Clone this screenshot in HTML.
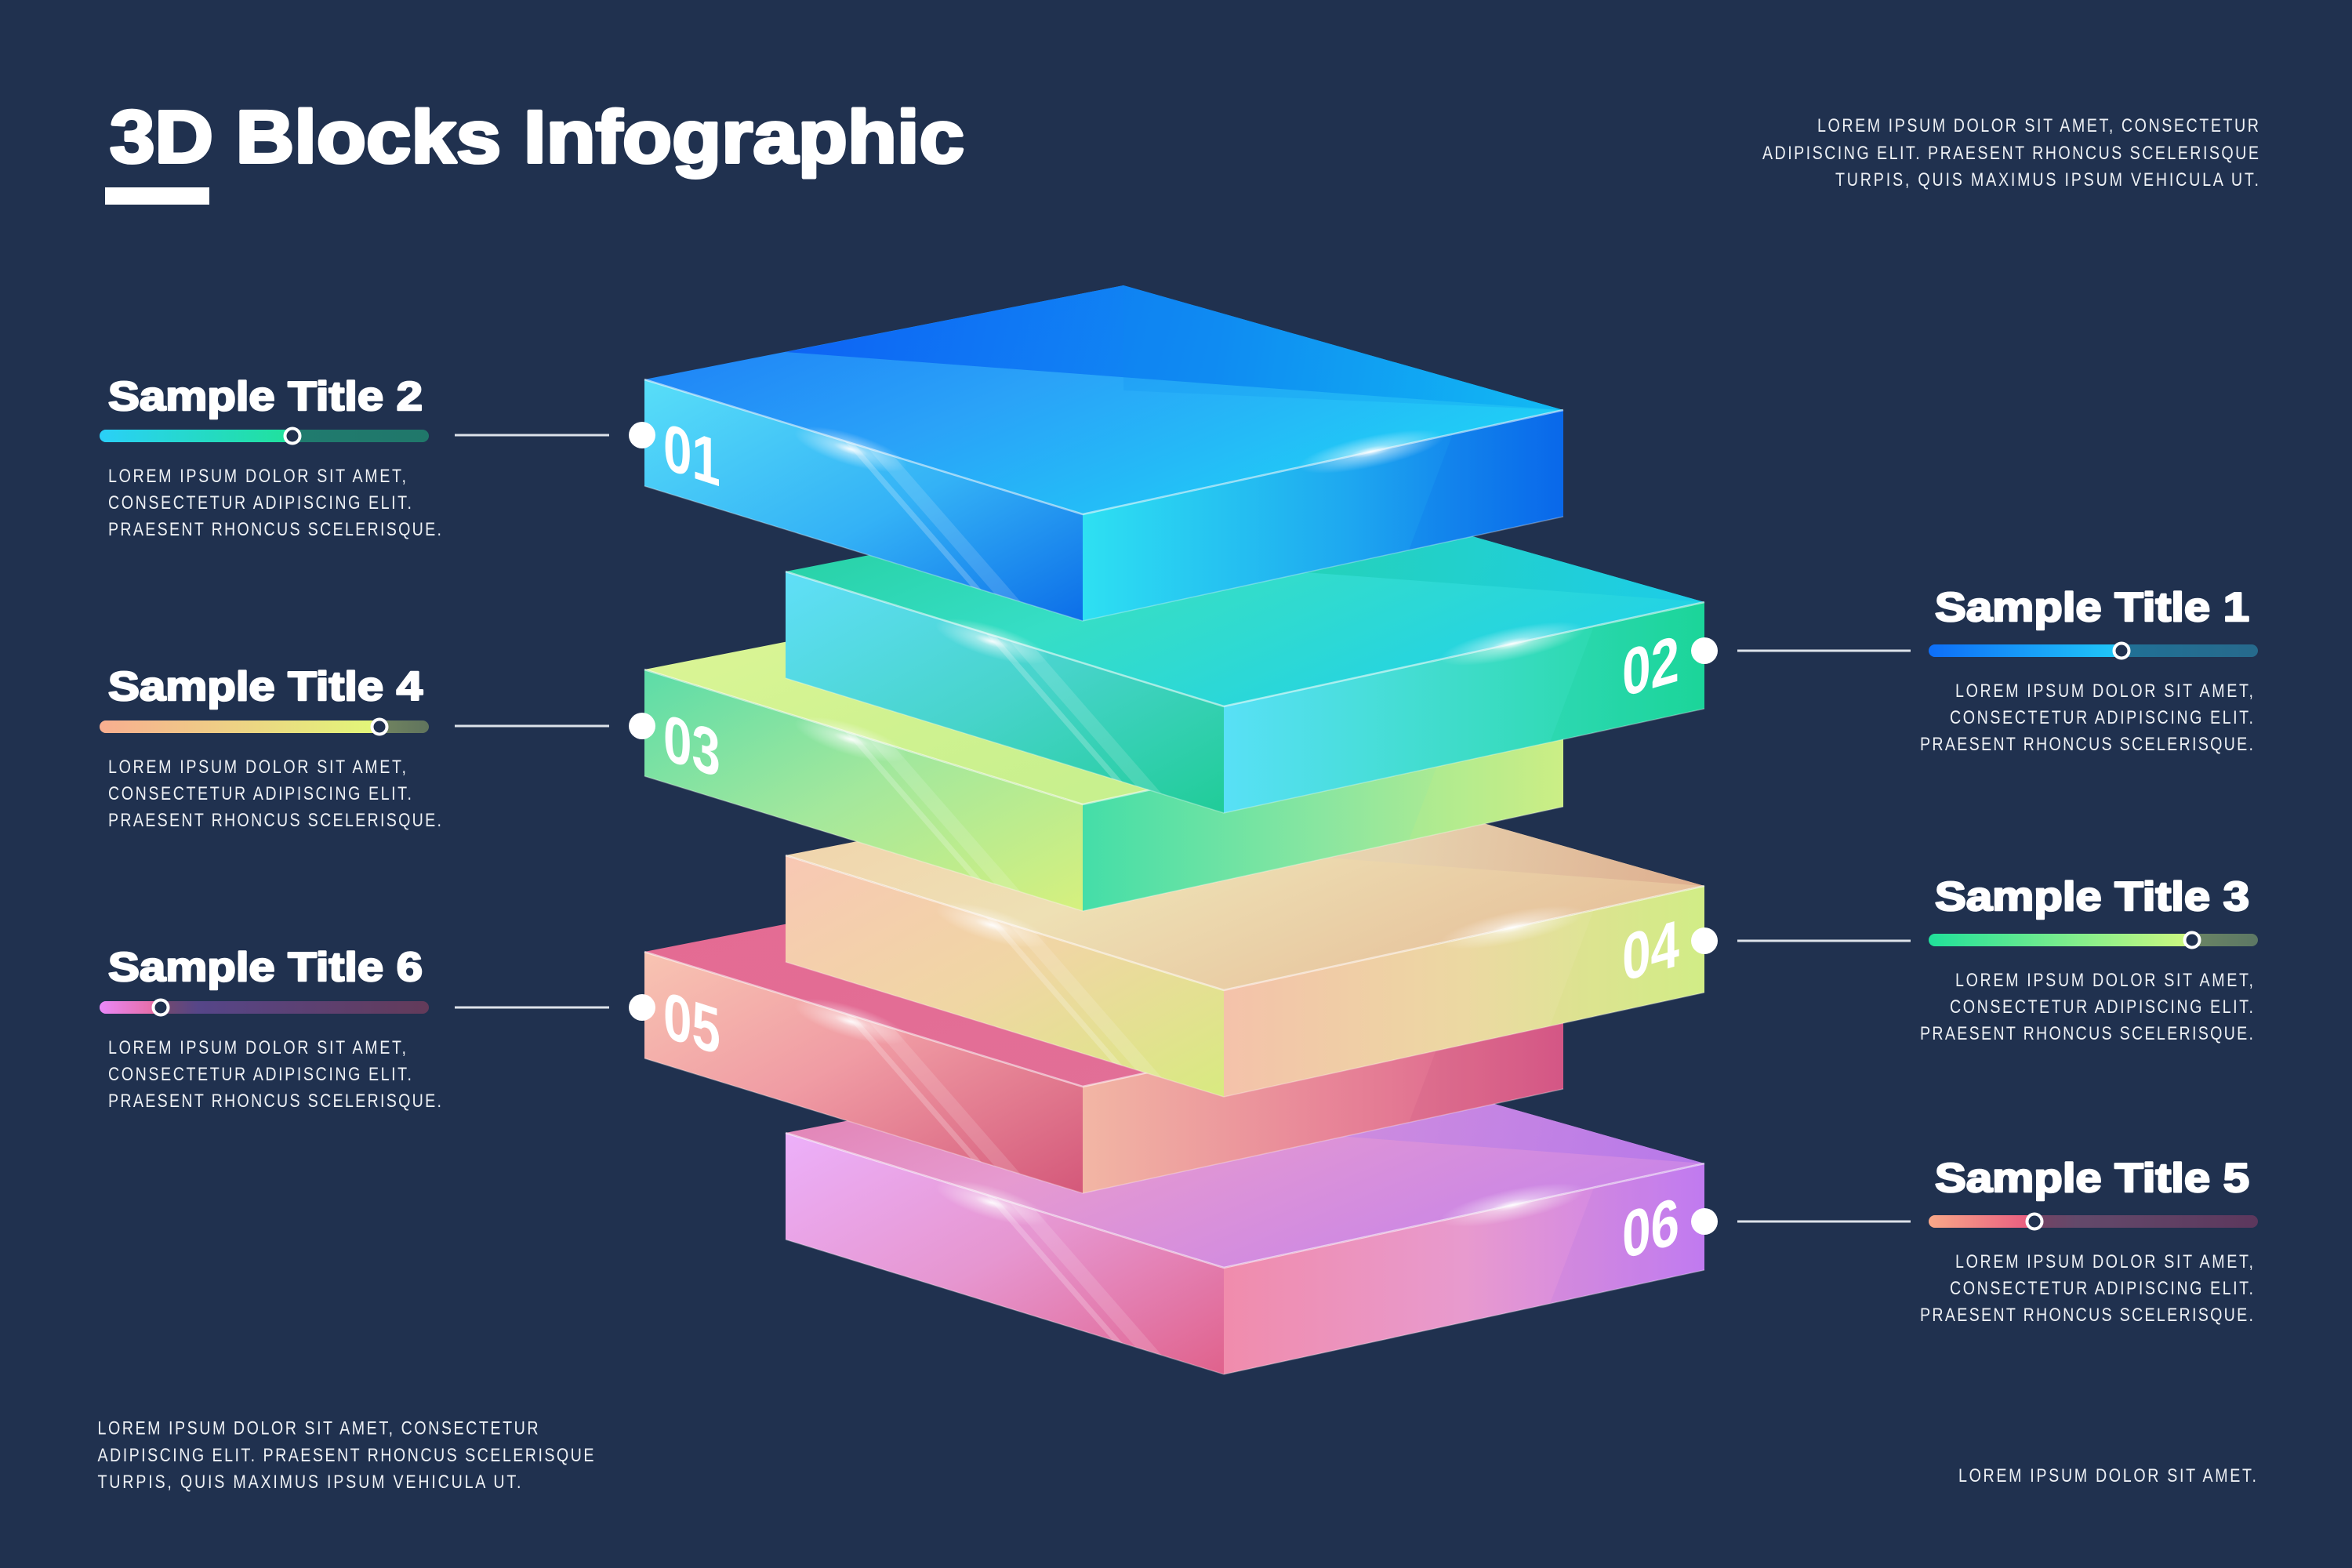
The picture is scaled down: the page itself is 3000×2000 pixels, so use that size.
<!DOCTYPE html>
<html>
<head>
<meta charset="utf-8">
<style>
html,body{margin:0;padding:0;background:#20314f;}
svg{display:block;}
text{font-family:"Liberation Sans", Arial, sans-serif;}
</style>
</head>
<body>
<svg width="3000" height="2000" viewBox="0 0 3000 2000" xmlns="http://www.w3.org/2000/svg">
<defs>
  <radialGradient id="glare">
    <stop offset="0" stop-color="#fff" stop-opacity="0.95"/>
    <stop offset="0.3" stop-color="#fff" stop-opacity="0.45"/>
    <stop offset="1" stop-color="#fff" stop-opacity="0"/>
  </radialGradient>

  <linearGradient id="g1t" x1="0" y1="0" x2="1" y2="0.6"><stop offset="0" stop-color="#1a78f6"/><stop offset="0.5" stop-color="#2aa2f8"/><stop offset="1" stop-color="#1fd0f6"/></linearGradient>
  <linearGradient id="g1f" x1="0" y1="0" x2="1" y2="0"><stop offset="0" stop-color="#0a5cf4"/><stop offset="0.55" stop-color="#0c86f2"/><stop offset="1" stop-color="#12c4f4"/></linearGradient>
  <linearGradient id="g1l" x1="0" y1="0" x2="1" y2="1"><stop offset="0" stop-color="#58def8"/><stop offset="0.55" stop-color="#34b2f6"/><stop offset="1" stop-color="#0c6ee8"/></linearGradient>
  <linearGradient id="g1r" x1="0" y1="0" x2="1" y2="0"><stop offset="0" stop-color="#2ee0f2"/><stop offset="0.55" stop-color="#1ea8f0"/><stop offset="1" stop-color="#0a6aea"/></linearGradient>

  <linearGradient id="g2t" x1="0" y1="0" x2="1" y2="0.6"><stop offset="0" stop-color="#22cc98"/><stop offset="0.5" stop-color="#36dec6"/><stop offset="1" stop-color="#22d2e6"/></linearGradient>
  <linearGradient id="g2f" x1="0" y1="0" x2="1" y2="0"><stop offset="0" stop-color="#1cc48c"/><stop offset="0.5" stop-color="#22d0b8"/><stop offset="1" stop-color="#1ccbea"/></linearGradient>
  <linearGradient id="g2l" x1="0" y1="0" x2="1" y2="1"><stop offset="0" stop-color="#60dff8"/><stop offset="0.5" stop-color="#48d4cc"/><stop offset="1" stop-color="#20cc98"/></linearGradient>
  <linearGradient id="g2r" x1="0" y1="0" x2="1" y2="0"><stop offset="0" stop-color="#58e0f6"/><stop offset="0.5" stop-color="#3edcc8"/><stop offset="1" stop-color="#1ed89c"/></linearGradient>

  <linearGradient id="g3t" x1="0" y1="0" x2="1" y2="0.6"><stop offset="0" stop-color="#e0f698"/><stop offset="0.5" stop-color="#cff290"/><stop offset="1" stop-color="#c2ee8c"/></linearGradient>
  <linearGradient id="g3f" x1="0" y1="0" x2="1" y2="0"><stop offset="0" stop-color="#d6f48e"/><stop offset="1" stop-color="#b8e888"/></linearGradient>
  <linearGradient id="g3l" x1="0" y1="0" x2="1" y2="1"><stop offset="0" stop-color="#5cdca8"/><stop offset="0.5" stop-color="#a4e89c"/><stop offset="1" stop-color="#d6f07e"/></linearGradient>
  <linearGradient id="g3r" x1="0" y1="0" x2="1" y2="0"><stop offset="0" stop-color="#44dea8"/><stop offset="0.5" stop-color="#8ae6a0"/><stop offset="1" stop-color="#cdee86"/></linearGradient>

  <linearGradient id="g4t" x1="0" y1="0" x2="1" y2="0.6"><stop offset="0" stop-color="#f2d0aa"/><stop offset="0.5" stop-color="#eee0b4"/><stop offset="1" stop-color="#e6c09a"/></linearGradient>
  <linearGradient id="g4f" x1="0" y1="0" x2="1" y2="0"><stop offset="0" stop-color="#ecd6a8"/><stop offset="0.6" stop-color="#e6d2b0"/><stop offset="1" stop-color="#dcaa8c"/></linearGradient>
  <linearGradient id="g4l" x1="0" y1="0" x2="1" y2="1"><stop offset="0" stop-color="#f8c8b4"/><stop offset="0.5" stop-color="#f0d6a4"/><stop offset="1" stop-color="#d8ea80"/></linearGradient>
  <linearGradient id="g4r" x1="0" y1="0" x2="1" y2="0"><stop offset="0" stop-color="#f4c2aa"/><stop offset="0.5" stop-color="#ecd8a2"/><stop offset="1" stop-color="#d2f08a"/></linearGradient>

  <linearGradient id="g5t" x1="0" y1="0" x2="1" y2="0.6"><stop offset="0" stop-color="#e46a92"/><stop offset="1" stop-color="#e27098"/></linearGradient>
  <linearGradient id="g5f" x1="0" y1="0" x2="1" y2="0"><stop offset="0" stop-color="#dc6088"/><stop offset="1" stop-color="#e0688c"/></linearGradient>
  <linearGradient id="g5l" x1="0" y1="0" x2="1" y2="1"><stop offset="0" stop-color="#f8c4b2"/><stop offset="0.45" stop-color="#f09ca4"/><stop offset="1" stop-color="#d4587a"/></linearGradient>
  <linearGradient id="g5r" x1="0" y1="0" x2="1" y2="0"><stop offset="0" stop-color="#f2b6a4"/><stop offset="0.5" stop-color="#e88698"/><stop offset="1" stop-color="#d85a88"/></linearGradient>

  <linearGradient id="g6t" x1="0" y1="0" x2="1" y2="0.6"><stop offset="0" stop-color="#e07aa8"/><stop offset="0.45" stop-color="#e69ad0"/><stop offset="1" stop-color="#c884e8"/></linearGradient>
  <linearGradient id="g6f" x1="0" y1="0" x2="1" y2="0"><stop offset="0" stop-color="#d8609a"/><stop offset="0.5" stop-color="#cc8ce0"/><stop offset="1" stop-color="#b476ea"/></linearGradient>
  <linearGradient id="g6l" x1="0" y1="0" x2="1" y2="1"><stop offset="0" stop-color="#ecb0fa"/><stop offset="0.5" stop-color="#e696d0"/><stop offset="1" stop-color="#e0628c"/></linearGradient>
  <linearGradient id="g6r" x1="0" y1="0" x2="1" y2="0"><stop offset="0" stop-color="#f08cac"/><stop offset="0.5" stop-color="#e89ace"/><stop offset="1" stop-color="#c67ef2"/></linearGradient>

  <linearGradient id="bar2" gradientUnits="userSpaceOnUse" x1="127" y1="0" x2="547" y2="0"><stop offset="0" stop-color="#2ad0f8"/><stop offset="0.59" stop-color="#20e29a"/><stop offset="1" stop-color="#20d890"/></linearGradient>
  <linearGradient id="bar4" gradientUnits="userSpaceOnUse" x1="127" y1="0" x2="547" y2="0"><stop offset="0" stop-color="#f8ae90"/><stop offset="0.85" stop-color="#e2f878"/><stop offset="1" stop-color="#b8d070"/></linearGradient>
  <linearGradient id="bar6" gradientUnits="userSpaceOnUse" x1="127" y1="0" x2="547" y2="0"><stop offset="0" stop-color="#e888f8"/><stop offset="0.19" stop-color="#e66a9a"/><stop offset="0.3" stop-color="#a062d8"/><stop offset="1" stop-color="#c04868"/></linearGradient>
  <linearGradient id="bar1" gradientUnits="userSpaceOnUse" x1="2460" y1="0" x2="2880" y2="0"><stop offset="0" stop-color="#0e6ef8"/><stop offset="0.58" stop-color="#20c8f8"/><stop offset="1" stop-color="#30b8e0"/></linearGradient>
  <linearGradient id="bar3" gradientUnits="userSpaceOnUse" x1="2460" y1="0" x2="2880" y2="0"><stop offset="0" stop-color="#20e09a"/><stop offset="0.8" stop-color="#cff880"/><stop offset="1" stop-color="#b0d880"/></linearGradient>
  <linearGradient id="bar5" gradientUnits="userSpaceOnUse" x1="2460" y1="0" x2="2880" y2="0"><stop offset="0" stop-color="#f8a888"/><stop offset="0.32" stop-color="#e85a80"/><stop offset="0.45" stop-color="#c06a90"/><stop offset="1" stop-color="#b04070"/></linearGradient>

  <g id="blockfx">
    <polygon points="1077,562.5 1090,566.5 1252,752.5 1239,748.5" fill="#fff" opacity="0.22"/>
    <polygon points="1107,571.7 1140,581.8 1302,767.8 1269,757.7" fill="#fff" opacity="0.14"/>
    <polyline points="822,484 1381,656 1994,523" fill="none" stroke="#fff" stroke-opacity="0.55" stroke-width="2.5"/>
    <polyline points="822,620 1381,792 1994,659" fill="none" stroke="#fff" stroke-opacity="0.3" stroke-width="1.5"/>
    <ellipse cx="1085" cy="573" rx="75" ry="20" fill="url(#glare)" transform="rotate(17 1085 573)"/>
    <ellipse cx="1749" cy="576" rx="95" ry="20" fill="url(#glare)" transform="rotate(-12 1749 576)"/>
  </g>
</defs>

<rect x="0" y="0" width="3000" height="2000" fill="#20314f"/>

<!-- Block 6 -->
<g transform="translate(180,961)">
  <polygon points="1433,364 1994,523 1381,656 822,484" fill="url(#g6t)"/>
  <polygon points="1002,449 1433,364 1994,523" fill="url(#g6f)" opacity="0.85"/>
  <polygon points="822,484 1381,656 1381,792 822,620" fill="url(#g6l)"/>
  <polygon points="1381,656 1994,523 1994,659 1381,792" fill="url(#g6r)"/>
  <polygon points="1853,553.6 1994,523 1994,659 1797,701.7" fill="#a060e8" opacity="0.12"/>
  <use href="#blockfx"/>
</g>

<!-- Block 5 -->
<g transform="translate(0,730)">
  <polygon points="1433,364 1994,523 1381,656 822,484" fill="url(#g5t)"/>
  <polygon points="1002,449 1433,364 1994,523" fill="url(#g5f)" opacity="0.85"/>
  <polygon points="822,484 1381,656 1381,792 822,620" fill="url(#g5l)"/>
  <polygon points="1381,656 1994,523 1994,659 1381,792" fill="url(#g5r)"/>
  <polygon points="1853,553.6 1994,523 1994,659 1797,701.7" fill="#c04070" opacity="0.12"/>
  <use href="#blockfx"/>
</g>

<!-- Block 4 -->
<g transform="translate(180,607)">
  <polygon points="1433,364 1994,523 1381,656 822,484" fill="url(#g4t)"/>
  <polygon points="1002,449 1433,364 1994,523" fill="url(#g4f)" opacity="0.85"/>
  <polygon points="822,484 1381,656 1381,792 822,620" fill="url(#g4l)"/>
  <polygon points="1381,656 1994,523 1994,659 1381,792" fill="url(#g4r)"/>
  <polygon points="1853,553.6 1994,523 1994,659 1797,701.7" fill="#d0e070" opacity="0.15"/>
  <use href="#blockfx"/>
</g>

<!-- Block 3 -->
<g transform="translate(0,370)">
  <polygon points="1433,364 1994,523 1381,656 822,484" fill="url(#g3t)"/>
  <polygon points="1002,449 1433,364 1994,523" fill="url(#g3f)" opacity="0.85"/>
  <polygon points="822,484 1381,656 1381,792 822,620" fill="url(#g3l)"/>
  <polygon points="1381,656 1994,523 1994,659 1381,792" fill="url(#g3r)"/>
  <polygon points="1853,553.6 1994,523 1994,659 1797,701.7" fill="#c8f080" opacity="0.2"/>
  <use href="#blockfx"/>
</g>

<!-- Block 2 -->
<g transform="translate(180,245)">
  <polygon points="1433,364 1994,523 1381,656 822,484" fill="url(#g2t)"/>
  <polygon points="1002,449 1433,364 1994,523" fill="url(#g2f)" opacity="0.85"/>
  <polygon points="822,484 1381,656 1381,792 822,620" fill="url(#g2l)"/>
  <polygon points="1381,656 1994,523 1994,659 1381,792" fill="url(#g2r)"/>
  <polygon points="1853,553.6 1994,523 1994,659 1797,701.7" fill="#10c890" opacity="0.15"/>
  <use href="#blockfx"/>
</g>

<!-- Block 1 -->
<g>
  <polygon points="1433,364 1994,523 1381,656 822,484" fill="url(#g1t)"/>
  <polygon points="1002,449 1433,364 1994,523" fill="url(#g1f)" opacity="0.85"/>
  <polygon points="1433,364 1994,523 1433,498" fill="#0a8cf0" opacity="0.18"/>
  <polygon points="822,484 1381,656 1381,792 822,620" fill="url(#g1l)"/>
  <polygon points="1381,656 1994,523 1994,659 1381,792" fill="url(#g1r)"/>
  <polygon points="1853,553.6 1994,523 1994,659 1797,701.7" fill="#0a60e8" opacity="0.15"/>
  <use href="#blockfx"/>
</g>

<!-- Numbers -->
<g fill="#ffffff" font-size="84" font-weight="700">
  <text transform="translate(846,597) skewY(18) scale(0.78,1)" x="0" y="0">01</text>
  <text transform="translate(846,968) skewY(18) scale(0.78,1)" x="0" y="0">03</text>
  <text transform="translate(846,1322) skewY(18) scale(0.78,1)" x="0" y="0">05</text>
  <text transform="translate(2142,868) skewY(-16) scale(0.78,1)" x="0" y="0" text-anchor="end">02</text>
  <text transform="translate(2142,1231) skewY(-16) scale(0.78,1)" x="0" y="0" text-anchor="end">04</text>
  <text transform="translate(2142,1585) skewY(-16) scale(0.78,1)" x="0" y="0" text-anchor="end">06</text>
</g>

<!-- Connectors & dots -->
<g stroke="#dde2ea" stroke-width="3">
  <line x1="580" y1="555" x2="777" y2="555"/>
  <line x1="580" y1="926" x2="777" y2="926"/>
  <line x1="580" y1="1285" x2="777" y2="1285"/>
  <line x1="2216" y1="830" x2="2437" y2="830"/>
  <line x1="2216" y1="1200" x2="2437" y2="1200"/>
  <line x1="2216" y1="1558" x2="2437" y2="1558"/>
</g>
<g fill="#ffffff">
  <circle cx="819" cy="555" r="17"/>
  <circle cx="819" cy="926" r="17"/>
  <circle cx="819" cy="1285" r="17"/>
  <circle cx="2174" cy="830" r="17"/>
  <circle cx="2174" cy="1200" r="17"/>
  <circle cx="2174" cy="1558" r="17"/>
</g>

<!-- Header -->
<text x="140" y="207" font-size="95" font-weight="700" fill="#ffffff" stroke="#ffffff" stroke-width="4" stroke-linejoin="round" textLength="1090" lengthAdjust="spacingAndGlyphs">3D Blocks Infographic</text>
<rect x="134" y="239" width="133" height="22" fill="#ffffff"/>

<g fill="#eef1f5" font-size="24">
  <text transform="translate(2318,168) scale(0.82,1)" x="0" y="0" textLength="686.6" lengthAdjust="spacing">LOREM IPSUM DOLOR SIT AMET, CONSECTETUR</text>
  <text transform="translate(2248,203) scale(0.82,1)" x="0" y="0" textLength="771.9" lengthAdjust="spacing">ADIPISCING ELIT. PRAESENT RHONCUS SCELERISQUE</text>
  <text transform="translate(2341,237) scale(0.82,1)" x="0" y="0" textLength="658.5" lengthAdjust="spacing">TURPIS, QUIS MAXIMUS IPSUM VEHICULA UT.</text>
</g>

<!-- Sample titles -->
<g fill="#ffffff" stroke="#ffffff" stroke-width="2.5" stroke-linejoin="round" font-size="52" font-weight="700">
  <text x="138" y="523" textLength="401" lengthAdjust="spacingAndGlyphs">Sample Title 2</text>
  <text x="138" y="893" textLength="401" lengthAdjust="spacingAndGlyphs">Sample Title 4</text>
  <text x="138" y="1251" textLength="401" lengthAdjust="spacingAndGlyphs">Sample Title 6</text>
  <text x="2468" y="792" textLength="401" lengthAdjust="spacingAndGlyphs">Sample Title 1</text>
  <text x="2468" y="1161" textLength="401" lengthAdjust="spacingAndGlyphs">Sample Title 3</text>
  <text x="2468" y="1520" textLength="401" lengthAdjust="spacingAndGlyphs">Sample Title 5</text>
</g>

<!-- bars left -->
<rect x="127" y="548" width="420" height="16" rx="8" fill="url(#bar2)" opacity="0.42"/>
<rect x="127" y="548" width="250" height="16" rx="8" fill="url(#bar2)"/>
<circle cx="373" cy="556" r="9.5" fill="#20314f" stroke="#fff" stroke-width="4"/>

<rect x="127" y="919" width="420" height="16" rx="8" fill="url(#bar4)" opacity="0.42"/>
<rect x="127" y="919" width="361" height="16" rx="8" fill="url(#bar4)"/>
<circle cx="484" cy="927" r="9.5" fill="#20314f" stroke="#fff" stroke-width="4"/>

<rect x="127" y="1277" width="420" height="16" rx="8" fill="url(#bar6)" opacity="0.42"/>
<rect x="127" y="1277" width="82" height="16" rx="8" fill="url(#bar6)"/>
<circle cx="205" cy="1285" r="9.5" fill="#20314f" stroke="#fff" stroke-width="4"/>

<!-- bars right -->
<rect x="2460" y="822" width="420" height="16" rx="8" fill="url(#bar1)" opacity="0.42"/>
<rect x="2460" y="822" width="250" height="16" rx="8" fill="url(#bar1)"/>
<circle cx="2706" cy="830" r="9.5" fill="#20314f" stroke="#fff" stroke-width="4"/>

<rect x="2460" y="1191" width="420" height="16" rx="8" fill="url(#bar3)" opacity="0.42"/>
<rect x="2460" y="1191" width="340" height="16" rx="8" fill="url(#bar3)"/>
<circle cx="2796" cy="1199" r="9.5" fill="#20314f" stroke="#fff" stroke-width="4"/>

<rect x="2460" y="1550" width="420" height="16" rx="8" fill="url(#bar5)" opacity="0.42"/>
<rect x="2460" y="1550" width="139" height="16" rx="8" fill="url(#bar5)"/>
<circle cx="2595" cy="1558" r="9.5" fill="#20314f" stroke="#fff" stroke-width="4"/>

<!-- descriptions -->
<g fill="#eef1f5" font-size="24">
  <text transform="translate(138,615) scale(0.82,1)" x="0" y="0" textLength="463.4" lengthAdjust="spacing">LOREM IPSUM DOLOR SIT AMET,</text>
  <text transform="translate(138,649) scale(0.82,1)" x="0" y="0" textLength="472" lengthAdjust="spacing">CONSECTETUR ADIPISCING ELIT.</text>
  <text transform="translate(138,683) scale(0.82,1)" x="0" y="0" textLength="518.3" lengthAdjust="spacing">PRAESENT RHONCUS SCELERISQUE.</text>

  <text transform="translate(138,986) scale(0.82,1)" x="0" y="0" textLength="463.4" lengthAdjust="spacing">LOREM IPSUM DOLOR SIT AMET,</text>
  <text transform="translate(138,1020) scale(0.82,1)" x="0" y="0" textLength="472" lengthAdjust="spacing">CONSECTETUR ADIPISCING ELIT.</text>
  <text transform="translate(138,1054) scale(0.82,1)" x="0" y="0" textLength="518.3" lengthAdjust="spacing">PRAESENT RHONCUS SCELERISQUE.</text>

  <text transform="translate(138,1344) scale(0.82,1)" x="0" y="0" textLength="463.4" lengthAdjust="spacing">LOREM IPSUM DOLOR SIT AMET,</text>
  <text transform="translate(138,1378) scale(0.82,1)" x="0" y="0" textLength="472" lengthAdjust="spacing">CONSECTETUR ADIPISCING ELIT.</text>
  <text transform="translate(138,1412) scale(0.82,1)" x="0" y="0" textLength="518.3" lengthAdjust="spacing">PRAESENT RHONCUS SCELERISQUE.</text>

  <text transform="translate(2494,889) scale(0.82,1)" x="0" y="0" textLength="463.4" lengthAdjust="spacing">LOREM IPSUM DOLOR SIT AMET,</text>
  <text transform="translate(2487,923) scale(0.82,1)" x="0" y="0" textLength="472" lengthAdjust="spacing">CONSECTETUR ADIPISCING ELIT.</text>
  <text transform="translate(2449,957) scale(0.82,1)" x="0" y="0" textLength="518.3" lengthAdjust="spacing">PRAESENT RHONCUS SCELERISQUE.</text>

  <text transform="translate(2494,1258) scale(0.82,1)" x="0" y="0" textLength="463.4" lengthAdjust="spacing">LOREM IPSUM DOLOR SIT AMET,</text>
  <text transform="translate(2487,1292) scale(0.82,1)" x="0" y="0" textLength="472" lengthAdjust="spacing">CONSECTETUR ADIPISCING ELIT.</text>
  <text transform="translate(2449,1326) scale(0.82,1)" x="0" y="0" textLength="518.3" lengthAdjust="spacing">PRAESENT RHONCUS SCELERISQUE.</text>

  <text transform="translate(2494,1617) scale(0.82,1)" x="0" y="0" textLength="463.4" lengthAdjust="spacing">LOREM IPSUM DOLOR SIT AMET,</text>
  <text transform="translate(2487,1651) scale(0.82,1)" x="0" y="0" textLength="472" lengthAdjust="spacing">CONSECTETUR ADIPISCING ELIT.</text>
  <text transform="translate(2449,1685) scale(0.82,1)" x="0" y="0" textLength="518.3" lengthAdjust="spacing">PRAESENT RHONCUS SCELERISQUE.</text>

  <text transform="translate(124.5,1829.5) scale(0.82,1)" x="0" y="0" textLength="685.4" lengthAdjust="spacing">LOREM IPSUM DOLOR SIT AMET, CONSECTETUR</text>
  <text transform="translate(124.5,1864) scale(0.82,1)" x="0" y="0" textLength="771.9" lengthAdjust="spacing">ADIPISCING ELIT. PRAESENT RHONCUS SCELERISQUE</text>
  <text transform="translate(124.5,1898) scale(0.82,1)" x="0" y="0" textLength="658.5" lengthAdjust="spacing">TURPIS, QUIS MAXIMUS IPSUM VEHICULA UT.</text>

  <text transform="translate(2498,1890) scale(0.82,1)" x="0" y="0" textLength="463.4" lengthAdjust="spacing">LOREM IPSUM DOLOR SIT AMET.</text>
</g>
</svg>
</body>
</html>
